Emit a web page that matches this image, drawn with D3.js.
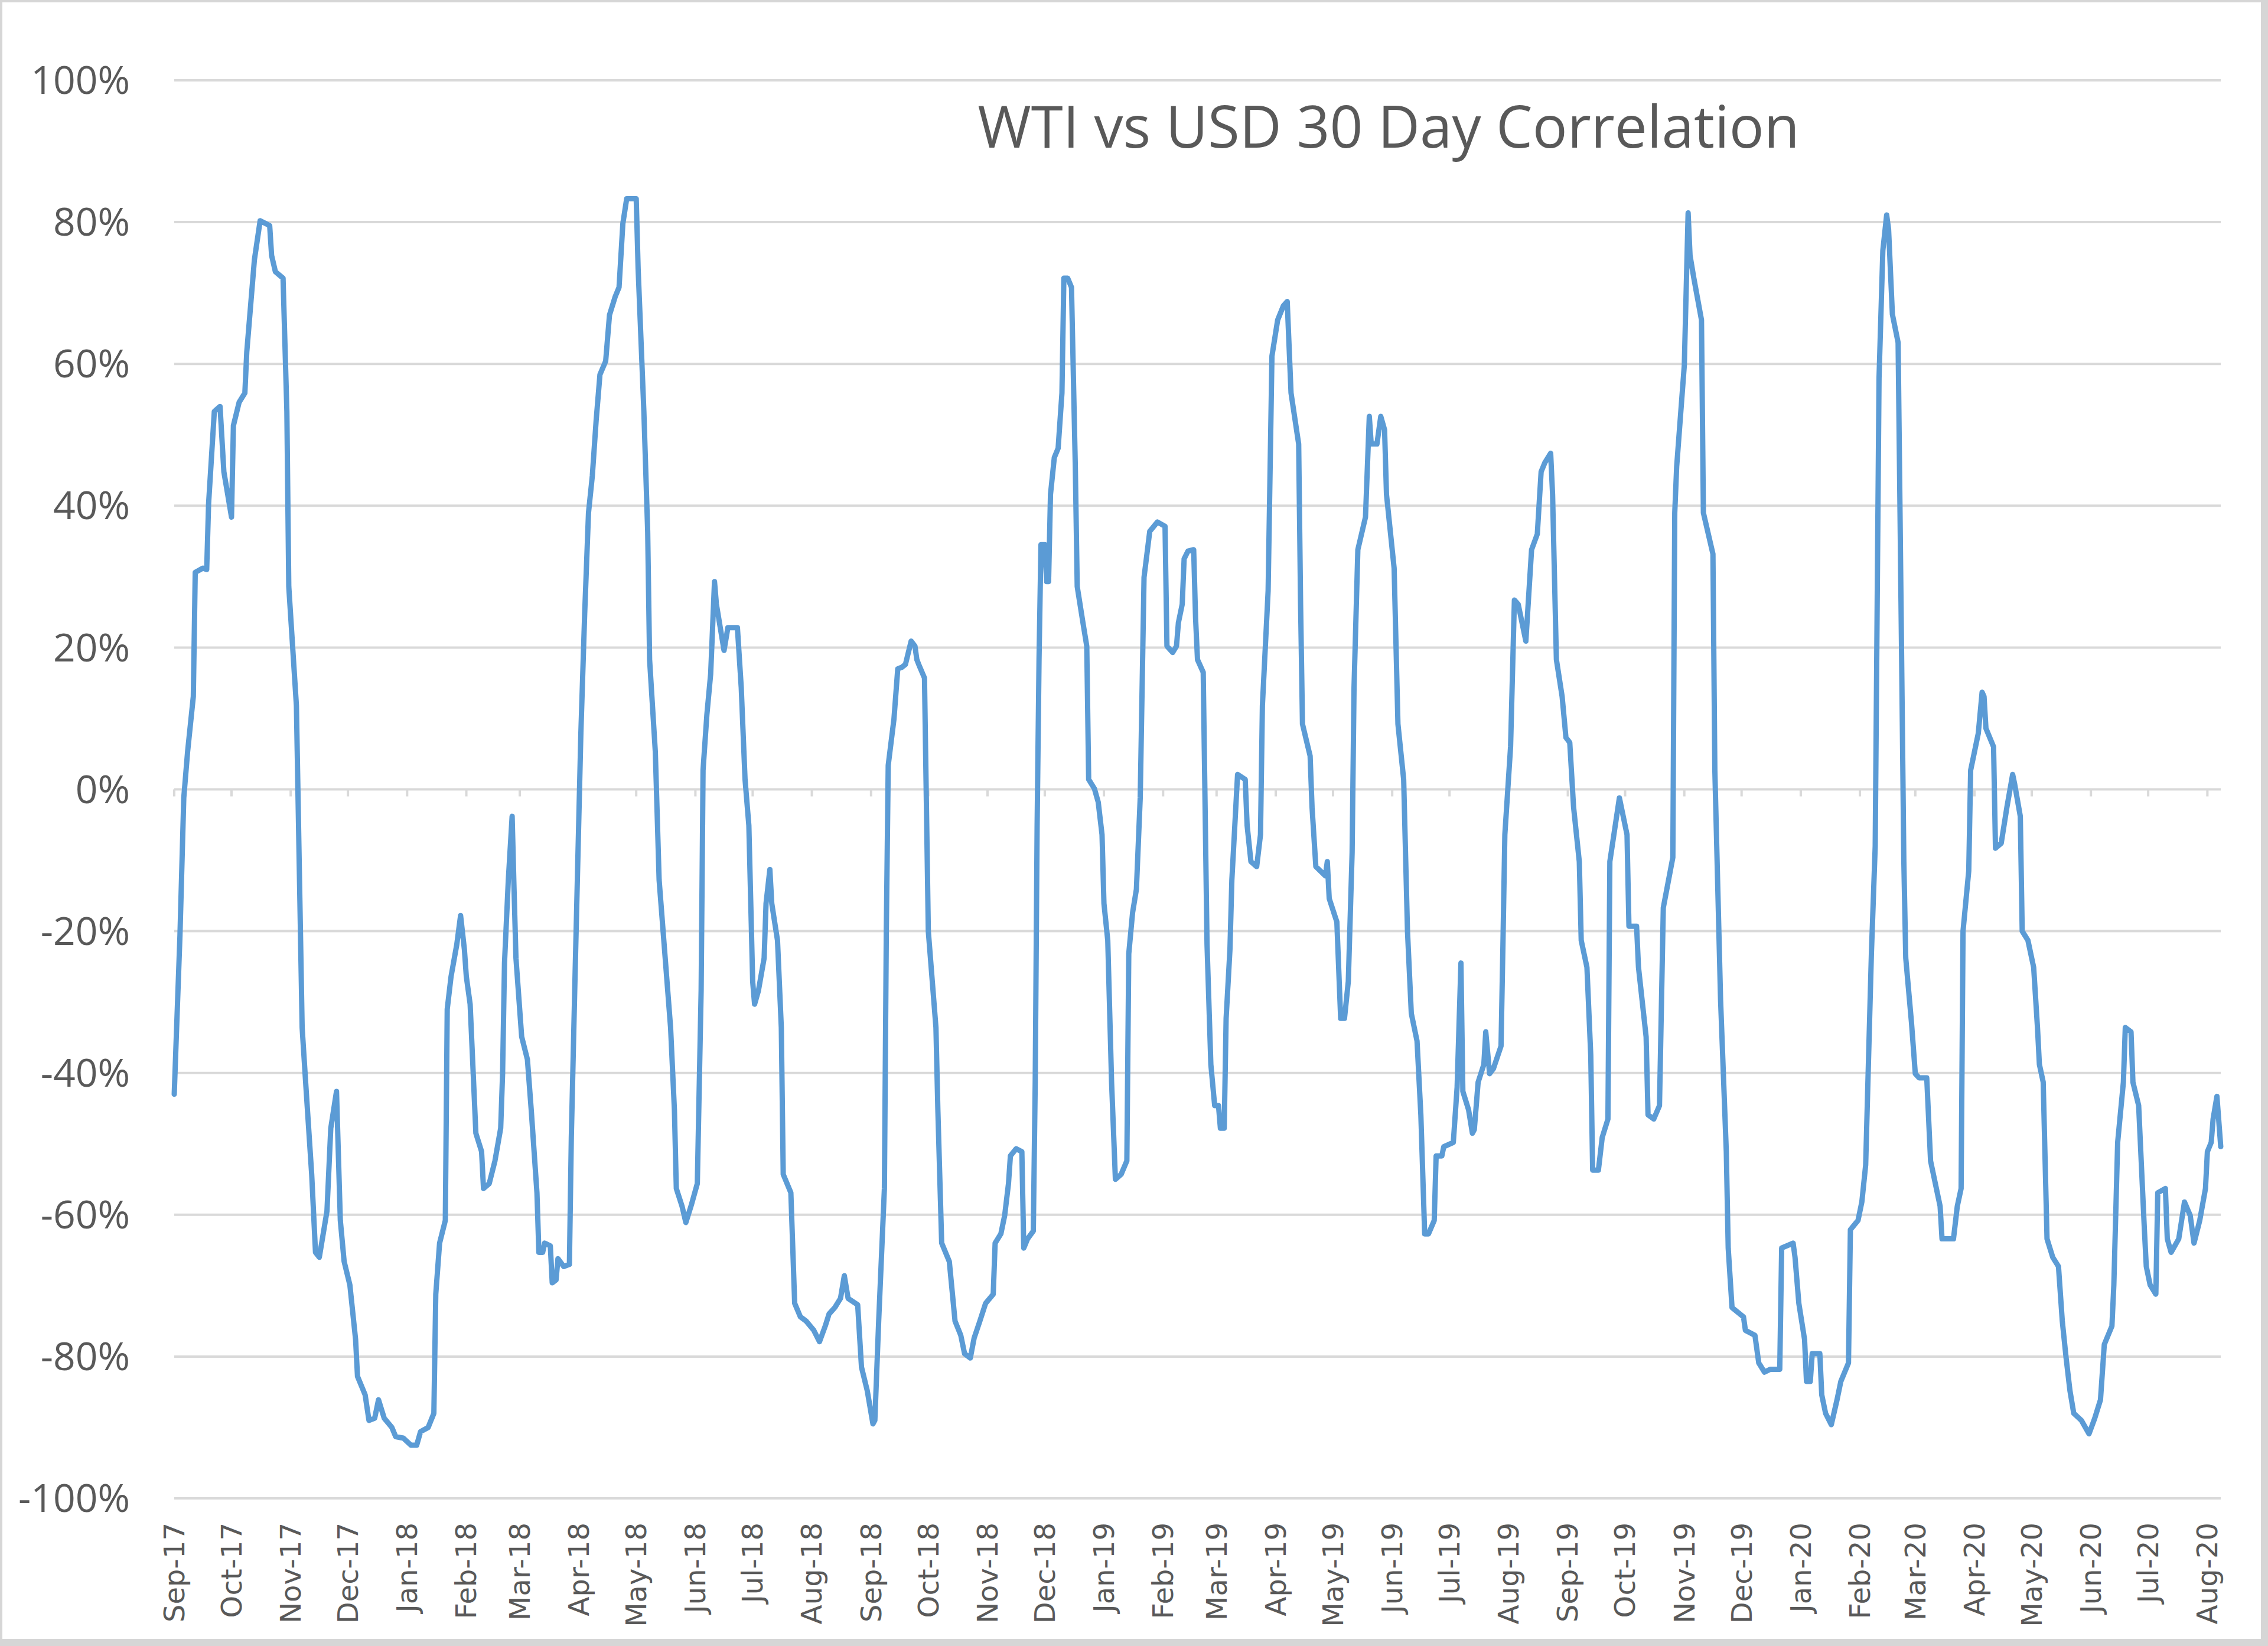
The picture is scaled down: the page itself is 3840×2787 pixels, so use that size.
<!DOCTYPE html>
<html>
<head>
<meta charset="utf-8">
<script src="https://cdn.jsdelivr.net/npm/d3@7"></script>
<style>
    html, body { margin: 0; padding: 0; background: #fff; }
    svg { display: block; }
</style>
</head>
<body>
<div id="chart"></div>
<script>
// WTI vs USD 30 day rolling correlation, values in percent
const obs2017 = [
    ["2017-09-01", -43], ["2017-09-04", -20.6], ["2017-09-06", -1.2], ["2017-09-08", 5.3],
    ["2017-09-11", 13.1], ["2017-09-12", 30.6], ["2017-09-16", 31.2], ["2017-09-18", 31],
    ["2017-09-19", 40.3], ["2017-09-22", 53.3], ["2017-09-25", 54], ["2017-09-27", 44.8],
    ["2017-09-29", 41.6], ["2017-10-01", 38.4], ["2017-10-02", 51.3], ["2017-10-05", 54.6],
    ["2017-10-08", 55.9], ["2017-10-09", 61.7], ["2017-10-11", 68.2], ["2017-10-13", 74.7],
    ["2017-10-16", 80.2], ["2017-10-21", 79.5], ["2017-10-22", 75.3], ["2017-10-24", 73],
    ["2017-10-28", 72.1], ["2017-10-30", 53.3], ["2017-10-31", 28.6], ["2017-11-04", 11.8],
    ["2017-11-07", -33.6], ["2017-11-09", -42], ["2017-11-12", -54.3], ["2017-11-14", -65.3],
    ["2017-11-16", -66], ["2017-11-20", -59.5], ["2017-11-22", -47.8], ["2017-11-25", -42.6],
    ["2017-11-26", -51.7], ["2017-11-27", -60.8], ["2017-11-29", -66.6], ["2017-12-02", -69.9],
    ["2017-12-05", -77.6], ["2017-12-06", -82.8], ["2017-12-10", -85.4], ["2017-12-12", -89],
    ["2017-12-15", -88.7], ["2017-12-17", -86.1], ["2017-12-20", -88.7], ["2017-12-24", -90],
    ["2017-12-26", -91.3], ["2017-12-30", -91.5]
];

const obs2018 = [
    ["2018-01-03", -92.5], ["2018-01-06", -92.5], ["2018-01-08", -90.6], ["2018-01-12", -90],
    ["2018-01-15", -88], ["2018-01-16", -71.2], ["2018-01-18", -64], ["2018-01-21", -60.8],
    ["2018-01-22", -31], ["2018-01-24", -26.4], ["2018-01-27", -21.9], ["2018-01-29", -17.8],
    ["2018-01-31", -22.6], ["2018-02-01", -26.4], ["2018-02-03", -30.3], ["2018-02-06", -48.5],
    ["2018-02-09", -51.1], ["2018-02-10", -56.3], ["2018-02-13", -55.6], ["2018-02-16", -52.4],
    ["2018-02-19", -47.8], ["2018-02-20", -40.1], ["2018-02-21", -24.5], ["2018-02-23", -12.8],
    ["2018-02-25", -3.8], ["2018-02-26", -14.1], ["2018-02-27", -23.8], ["2018-03-02", -34.9],
    ["2018-03-05", -38.1], ["2018-03-07", -45.2], ["2018-03-10", -56.9], ["2018-03-11", -65.3],
    ["2018-03-13", -65.3], ["2018-03-14", -64], ["2018-03-17", -64.4], ["2018-03-18", -69.6],
    ["2018-03-20", -69.2], ["2018-03-21", -66.2], ["2018-03-24", -67.3], ["2018-03-27", -67],
    ["2018-03-28", -49.1], ["2018-03-30", -25.8], ["2018-04-02", 7.9], ["2018-04-04", 24.8],
    ["2018-04-06", 39], ["2018-04-08", 44.2], ["2018-04-10", 52], ["2018-04-12", 58.5],
    ["2018-04-15", 60.4], ["2018-04-17", 66.9], ["2018-04-20", 69.5], ["2018-04-22", 70.8],
    ["2018-04-24", 79.8], ["2018-04-26", 83.3], ["2018-05-01", 83.3], ["2018-05-02", 73.4],
    ["2018-05-05", 53.3], ["2018-05-07", 36.4], ["2018-05-08", 18.3], ["2018-05-11", 5.3],
    ["2018-05-13", -12.8], ["2018-05-16", -23.2], ["2018-05-19", -33.6], ["2018-05-21", -45.2],
    ["2018-05-22", -56.3], ["2018-05-25", -58.8], ["2018-05-27", -61.1], ["2018-05-30", -58.5],
    ["2018-06-02", -55.6], ["2018-06-04", -28.4], ["2018-06-05", 2.7], ["2018-06-07", 10.5],
    ["2018-06-09", 16.3], ["2018-06-11", 29.3], ["2018-06-12", 26.1], ["2018-06-16", 19.6],
    ["2018-06-18", 22.8], ["2018-06-23", 22.8], ["2018-06-25", 14.4], ["2018-06-27", 1.4],
    ["2018-06-29", -5.1], ["2018-07-01", -27.1], ["2018-07-02", -30.3], ["2018-07-04", -28.4],
    ["2018-07-07", -23.8], ["2018-07-08", -16.1], ["2018-07-10", -11.3], ["2018-07-11", -16.1],
    ["2018-07-14", -21.3], ["2018-07-16", -33.6], ["2018-07-17", -54.3], ["2018-07-21", -56.9],
    ["2018-07-23", -72.5], ["2018-07-26", -74.4], ["2018-07-29", -75], ["2018-08-02", -76.3],
    ["2018-08-05", -77.9], ["2018-08-08", -75.7], ["2018-08-10", -74], ["2018-08-13", -73.1],
    ["2018-08-16", -71.8], ["2018-08-18", -68.6], ["2018-08-20", -71.8], ["2018-08-25", -72.7],
    ["2018-08-27", -81.5], ["2018-08-30", -84.8], ["2018-09-02", -89.5], ["2018-09-03", -89],
    ["2018-09-05", -75], ["2018-09-08", -56.3], ["2018-09-09", -20], ["2018-09-10", 3.4],
    ["2018-09-13", 9.9], ["2018-09-15", 17], ["2018-09-17", 17.2], ["2018-09-19", 17.6],
    ["2018-09-22", 20.9], ["2018-09-24", 20.2], ["2018-09-25", 18.3], ["2018-09-26", 17.6],
    ["2018-09-29", 15.7], ["2018-10-01", -20], ["2018-10-05", -33.6], ["2018-10-06", -45.2],
    ["2018-10-08", -64], ["2018-10-12", -66.6], ["2018-10-15", -75], ["2018-10-18", -77],
    ["2018-10-20", -79.6], ["2018-10-23", -80.2], ["2018-10-25", -77.4], ["2018-10-28", -75],
    ["2018-10-31", -72.5], ["2018-11-04", -71.2], ["2018-11-05", -64], ["2018-11-08", -62.7],
    ["2018-11-10", -60.1], ["2018-11-12", -55.6], ["2018-11-13", -51.7], ["2018-11-16", -50.7],
    ["2018-11-19", -51.1], ["2018-11-20", -64.7], ["2018-11-22", -63.4], ["2018-11-25", -62.3],
    ["2018-11-26", -41.3], ["2018-11-27", -5.1], ["2018-11-28", 18.3], ["2018-11-29", 34.5],
    ["2018-12-01", 34.5], ["2018-12-02", 29.3], ["2018-12-03", 29.3], ["2018-12-04", 41.6],
    ["2018-12-06", 46.8], ["2018-12-08", 48.1], ["2018-12-10", 55.9], ["2018-12-11", 72.1],
    ["2018-12-13", 72.1], ["2018-12-15", 70.8], ["2018-12-17", 45.5], ["2018-12-18", 28.6],
    ["2018-12-21", 23.5], ["2018-12-23", 20.2], ["2018-12-24", 1.4], ["2018-12-27", 0.1],
    ["2018-12-29", -1.8], ["2018-12-31", -6.4]
];

const obs2019 = [
    ["2019-01-01", -16.1], ["2019-01-03", -21.3], ["2019-01-05", -41.3], ["2019-01-07", -55],
    ["2019-01-10", -54.3], ["2019-01-13", -52.4], ["2019-01-14", -23.2], ["2019-01-16", -17.4],
    ["2019-01-18", -14.1], ["2019-01-20", -1.2], ["2019-01-22", 29.9], ["2019-01-25", 36.4],
    ["2019-01-29", 37.7], ["2019-02-02", 37.1], ["2019-02-03", 20.2], ["2019-02-06", 19.3],
    ["2019-02-08", 20.2], ["2019-02-09", 23.5], ["2019-02-11", 26.1], ["2019-02-12", 32.5],
    ["2019-02-14", 33.6], ["2019-02-17", 33.8], ["2019-02-18", 24.1], ["2019-02-19", 18.3],
    ["2019-02-22", 16.5], ["2019-02-24", -21.9], ["2019-02-26", -38.8], ["2019-02-28", -44.6],
    ["2019-03-02", -44.6], ["2019-03-03", -47.8], ["2019-03-05", -47.8], ["2019-03-06", -32.3],
    ["2019-03-08", -22.6], ["2019-03-09", -12.8], ["2019-03-12", 2.1], ["2019-03-16", 1.4],
    ["2019-03-17", -5.1], ["2019-03-19", -10.2], ["2019-03-22", -10.9], ["2019-03-24", -6.4],
    ["2019-03-25", 11.8], ["2019-03-28", 28], ["2019-03-30", 61.1], ["2019-04-02", 66.2],
    ["2019-04-05", 68.2], ["2019-04-07", 68.8], ["2019-04-09", 55.9], ["2019-04-13", 48.7],
    ["2019-04-14", 26.1], ["2019-04-15", 9.2], ["2019-04-19", 4.7], ["2019-04-20", -2.5],
    ["2019-04-22", -10.9], ["2019-04-27", -12.2], ["2019-04-28", -10.2], ["2019-04-29", -15.4],
    ["2019-05-03", -18.7], ["2019-05-05", -32.3], ["2019-05-07", -32.3], ["2019-05-09", -27.1],
    ["2019-05-11", -8.9], ["2019-05-12", 14.4], ["2019-05-14", 33.8], ["2019-05-18", 38.4],
    ["2019-05-20", 52.6], ["2019-05-21", 48.7], ["2019-05-24", 48.7], ["2019-05-26", 52.6],
    ["2019-05-28", 50.7], ["2019-05-29", 41.6], ["2019-06-02", 31.2], ["2019-06-04", 9.2],
    ["2019-06-07", 1.4], ["2019-06-09", -20], ["2019-06-11", -31.6], ["2019-06-14", -35.5],
    ["2019-06-16", -45.9], ["2019-06-18", -62.7], ["2019-06-20", -62.7], ["2019-06-23", -60.8],
    ["2019-06-24", -51.7], ["2019-06-27", -51.7], ["2019-06-28", -50.4], ["2019-07-03", -49.8],
    ["2019-07-05", -42], ["2019-07-07", -24.5], ["2019-07-08", -42.6], ["2019-07-11", -45.2],
    ["2019-07-13", -48.5], ["2019-07-14", -48], ["2019-07-16", -41.3], ["2019-07-19", -38.8],
    ["2019-07-20", -34.2], ["2019-07-22", -40.1], ["2019-07-24", -39.4], ["2019-07-28", -36.2],
    ["2019-07-29", -21.9], ["2019-07-30", -6.4], ["2019-08-02", 6], ["2019-08-04", 26.7],
    ["2019-08-06", 26.1], ["2019-08-10", 20.9], ["2019-08-13", 33.8], ["2019-08-16", 36],
    ["2019-08-18", 44.8], ["2019-08-20", 46.1], ["2019-08-23", 47.4], ["2019-08-24", 41.6],
    ["2019-08-26", 18.3], ["2019-08-29", 13.1], ["2019-08-31", 7.3], ["2019-09-02", 6.6],
    ["2019-09-04", -2.5], ["2019-09-07", -10.2], ["2019-09-08", -21.3], ["2019-09-11", -25.1],
    ["2019-09-13", -37.5], ["2019-09-14", -53.7], ["2019-09-17", -53.7], ["2019-09-19", -49.1],
    ["2019-09-22", -46.5], ["2019-09-23", -10.2], ["2019-09-28", -1.2], ["2019-10-02", -6.4],
    ["2019-10-03", -19.3], ["2019-10-07", -19.3], ["2019-10-08", -25.1], ["2019-10-12", -34.9],
    ["2019-10-13", -45.9], ["2019-10-16", -46.5], ["2019-10-19", -44.6], ["2019-10-21", -16.7],
    ["2019-10-26", -9.6], ["2019-10-27", 39], ["2019-10-28", 45.5], ["2019-11-01", 59.8],
    ["2019-11-03", 81.3], ["2019-11-04", 75.3], ["2019-11-06", 72.1], ["2019-11-10", 66.2],
    ["2019-11-11", 39], ["2019-11-16", 33.2], ["2019-11-17", 2.7], ["2019-11-20", -29.7],
    ["2019-11-23", -51.1], ["2019-11-24", -64.7], ["2019-11-26", -73.1], ["2019-12-02", -74.4],
    ["2019-12-03", -76.3], ["2019-12-08", -77], ["2019-12-10", -80.9], ["2019-12-13", -82.2],
    ["2019-12-16", -81.8], ["2019-12-21", -81.8], ["2019-12-22", -64.7], ["2019-12-28", -64],
    ["2019-12-29", -66], ["2019-12-31", -72.5]
];

const obs2020 = [
    ["2020-01-03", -77.6], ["2020-01-04", -83.5], ["2020-01-06", -83.5], ["2020-01-07", -79.6],
    ["2020-01-11", -79.6], ["2020-01-12", -85.4], ["2020-01-14", -88], ["2020-01-17", -89.6],
    ["2020-01-20", -86.1], ["2020-01-22", -83.5], ["2020-01-26", -80.9], ["2020-01-27", -62.1],
    ["2020-01-31", -60.8], ["2020-02-02", -58.2], ["2020-02-04", -53], ["2020-02-07", -23.2],
    ["2020-02-09", -8], ["2020-02-11", 58], ["2020-02-13", 76], ["2020-02-15", 81],
    ["2020-02-16", 79], ["2020-02-18", 67], ["2020-02-21", 63], ["2020-02-22", 39],
    ["2020-02-24", -10.2], ["2020-02-25", -23.8], ["2020-02-28", -32.9], ["2020-03-01", -40.1],
    ["2020-03-03", -40.7], ["2020-03-07", -40.7], ["2020-03-09", -52.4], ["2020-03-14", -58.8],
    ["2020-03-15", -63.4], ["2020-03-21", -63.4], ["2020-03-23", -58.8], ["2020-03-25", -56.3],
    ["2020-03-26", -20], ["2020-03-29", -11.5], ["2020-03-30", 2.7], ["2020-04-03", 7.9],
    ["2020-04-05", 13.7], ["2020-04-06", 13.1], ["2020-04-07", 8.6], ["2020-04-11", 6],
    ["2020-04-12", -8.3], ["2020-04-15", -7.6], ["2020-04-18", -2.5], ["2020-04-21", 2.1],
    ["2020-04-22", 0.8], ["2020-04-25", -3.8], ["2020-04-26", -20], ["2020-04-29", -21.3],
    ["2020-05-02", -25.1], ["2020-05-04", -33.6], ["2020-05-05", -38.8], ["2020-05-07", -41.3],
    ["2020-05-09", -63.4], ["2020-05-12", -66], ["2020-05-15", -67.3], ["2020-05-17", -75],
    ["2020-05-19", -80.2], ["2020-05-21", -84.8], ["2020-05-23", -88], ["2020-05-27", -89],
    ["2020-05-31", -90.9], ["2020-06-03", -88.7], ["2020-06-06", -86.1], ["2020-06-08", -78.3],
    ["2020-06-12", -75.7], ["2020-06-13", -69.9], ["2020-06-15", -49.8], ["2020-06-18", -41.3],
    ["2020-06-19", -33.6], ["2020-06-22", -34.2], ["2020-06-23", -41.3], ["2020-06-26", -44.6],
    ["2020-06-28", -56.3], ["2020-06-29", -62.1], ["2020-06-30", -67.3], ["2020-07-02", -69.9],
    ["2020-07-05", -71.2], ["2020-07-06", -56.9], ["2020-07-10", -56.3], ["2020-07-11", -63.4],
    ["2020-07-13", -65.3], ["2020-07-17", -63.4], ["2020-07-20", -58.2], ["2020-07-23", -60.1],
    ["2020-07-25", -64], ["2020-07-28", -60.8], ["2020-07-31", -56.3], ["2020-08-01", -51.1],
    ["2020-08-03", -49.8], ["2020-08-04", -46.5], ["2020-08-06", -43.3], ["2020-08-08", -50.4]
];

const title = "WTI vs USD 30 Day Correlation";
const yTickValues = [-100, -80, -60, -40, -20, 0, 20, 40, 60, 80, 100];
const firstMonth = "2017-09-01";
const lastMonth = "2020-08-01";

const width = 3840;
const height = 2787;
const plot = {left: 295, right: 3760, top: 136, bottom: 2537};
const textColor = "#595959";
const gridColor = "#d9d9d9";

const parseDate = d3.timeParse("%Y-%m-%d");
const series = [...obs2017, ...obs2018, ...obs2019, ...obs2020]
    .map(([date, value]) => ({date: parseDate(date), value}));

const x = d3.scaleTime()
    .domain(d3.extent(series, d => d.date))
    .range([plot.left, plot.right]);

const y = d3.scaleLinear()
    .domain([-100, 100])
    .range([plot.bottom, plot.top]);

const svg = d3.select("#chart").append("svg")
    .attr("width", width)
    .attr("height", height)
    .attr("viewBox", [0, 0, width, height]);

svg.append("rect")
    .attr("width", width).attr("height", height)
    .attr("fill", "#fff");

// chart frame, thin on top/left, wider band on right/bottom
svg.append("rect")
    .attr("x", 2).attr("y", 2)
    .attr("width", width - 12).attr("height", height - 12)
    .attr("fill", "none")
    .attr("stroke", "#d6d6d6")
    .attr("stroke-width", 4);
svg.append("rect")
    .attr("x", width - 8).attr("y", 0)
    .attr("width", 8).attr("height", height)
    .attr("fill", "#d6d6d6");
svg.append("rect")
    .attr("x", 0).attr("y", height - 10)
    .attr("width", width).attr("height", 10)
    .attr("fill", "#d6d6d6");

// horizontal gridlines
svg.append("g")
    .selectAll("line")
    .data(yTickValues)
    .join("line")
    .attr("x1", plot.left)
    .attr("x2", plot.right)
    .attr("y1", d => y(d))
    .attr("y2", d => y(d))
    .attr("stroke", gridColor)
    .attr("stroke-width", 4);

// y axis labels
svg.append("g")
    .selectAll("text")
    .data(yTickValues)
    .join("text")
    .attr("x", 220)
    .attr("y", d => y(d))
    .attr("dy", "0.35em")
    .attr("text-anchor", "end")
    .attr("font-family", "'Open Sans', sans-serif")
    .attr("font-size", 66)
    .attr("fill", textColor)
    .text(d => d + "%");

// horizontal axis crosses at 0 with monthly tick marks
const months = d3.timeMonth.range(parseDate(firstMonth), d3.timeDay.offset(parseDate(lastMonth), 1));

svg.append("g")
    .selectAll("line")
    .data(months)
    .join("line")
    .attr("x1", d => x(d))
    .attr("x2", d => x(d))
    .attr("y1", y(0))
    .attr("y2", y(0) + 12)
    .attr("stroke", gridColor)
    .attr("stroke-width", 4);

// month labels sit below the plot, rotated
const formatMonth = d3.timeFormat("%b-%y");
svg.append("g")
    .selectAll("text")
    .data(months)
    .join("text")
    .attr("transform", d => `translate(${x(d)},2578) rotate(-90)`)
    .attr("dy", "0.35em")
    .attr("text-anchor", "end")
    .attr("font-family", "'DejaVu Sans', sans-serif")
    .attr("font-size", 48)
    .attr("fill", textColor)
    .text(d => formatMonth(d));

const line = d3.line()
    .x(d => x(d.date))
    .y(d => y(d.value));

svg.append("path")
    .datum(series)
    .attr("d", line)
    .attr("fill", "none")
    .attr("stroke", "#5b9bd5")
    .attr("stroke-width", 9)
    .attr("stroke-linejoin", "round")
    .attr("stroke-linecap", "round");

svg.append("text")
    .attr("x", 2351)
    .attr("y", 250)
    .attr("text-anchor", "middle")
    .attr("font-family", "'Open Sans', sans-serif")
    .attr("font-size", 98)
    .attr("fill", textColor)
    .text(title);
</script>
</body>
</html>
